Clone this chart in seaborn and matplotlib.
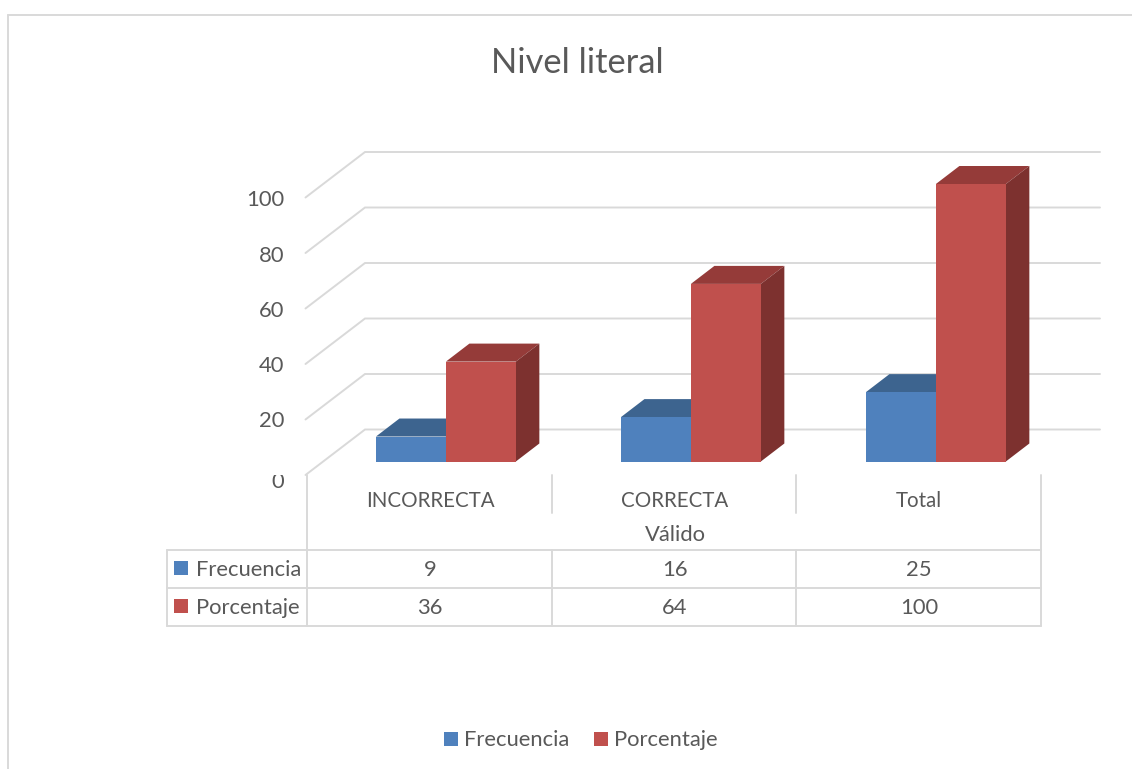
import matplotlib
matplotlib.use("Agg")
import matplotlib.pyplot as plt
import pandas as pd
import seaborn as sns
from matplotlib.patches import Polygon, Rectangle
from matplotlib.transforms import Affine2D, Bbox

categorias = ["INCORRECTA", "CORRECTA", "Total"]
frecuencia = [9, 16, 25]
porcentaje = [36, 64, 100]
series = ["Frecuencia", "Porcentaje"]
ticks = [0, 20, 40, 60, 80, 100]

W, H = 1132, 769
BLUE, RED = "#4F81BD", "#C0504D"
TOP = {"Frecuencia": "#3D648F", "Porcentaje": "#953B39"}
SIDE = {"Frecuencia": "#33537A", "Porcentaje": "#7D312F"}
GRID = "#D9D9D9"
TEXT = "#595959"
PX_UNIT = 2.775

sns.set_theme(style="white")
plt.rcParams["font.family"] = ["Lato", "DejaVu Sans"]

df = pd.DataFrame({
    "categoria": categorias * 2,
    "serie": [series[0]] * 3 + [series[1]] * 3,
    "valor": frecuencia + porcentaje,
})

fig = plt.figure(figsize=(W / 100, H / 100), dpi=100)
ax = fig.add_axes([323.4 / W, 1 - 461.5 / H, 735 / W, 277.5 / H])
sns.barplot(data=df, x="categoria", y="valor", hue="serie", order=categorias,
            hue_order=series, palette=[BLUE, RED], saturation=1, width=0.571,
            gap=0, legend=False, zorder=3, linewidth=0, ax=ax)
ax.set_xlim(-0.5, 2.5)
ax.set_ylim(0, 100)
ax.set_axis_off()

# pixel coordinates of the picture, origin top left
pix = Affine2D().scale(1, -1).translate(0, H)


def line(xs, ys, z=1):
    ax.plot(xs, ys, color=GRID, lw=1.4, transform=pix, clip_on=False,
            solid_joinstyle="miter", zorder=z)


def label(x, y, s, size=15.8, ha="center"):
    return ax.text(x, y, s, transform=pix, color=TEXT, fontsize=size, ha=ha,
                   va="center", clip_on=False)


# outer frame
line([8, 8], [H, 15])
line([8, W], [15, 15])

# back wall and floor lines
for v in ticks:
    y = 429.5 - v * PX_UNIT
    line([305.5, 365, 1100], [y + 45.5, y, y])

# depth of the bars
for name, cont in zip(series, ax.containers):
    for bar in cont:
        (x0, y0), (x1, y1) = ax.transData.transform(
            [(bar.get_x(), 0), (bar.get_x() + bar.get_width(), bar.get_height())])
        dx, dy = 23.5, 18
        ax.add_patch(Polygon([(x0, y1), (x1, y1), (x1 + dx, y1 + dy), (x0 + dx, y1 + dy)],
                             transform=None, facecolor=TOP[name], edgecolor="none",
                             clip_on=False, zorder=2))
        ax.add_patch(Polygon([(x1, y0), (x1 + dx, y0 + dy), (x1 + dx, y1 + dy), (x1, y1)],
                             transform=None, facecolor=SIDE[name], edgecolor="none",
                             clip_on=False, zorder=2))

# value axis labels, the zero is cut by the table
for v in ticks:
    y = 200.5 + (100 - v) * 2.76
    if v == 0:
        y += 5
    t = label(284, y, str(v), ha="right")
    if v == 0:
        t.set_clip_on(True)
        t.set_clip_box(Bbox([[250, H - 495], [300, H - 475]]))

# data table
for y in [550, 588, 626]:
    line([167, 1041], [y, y])
line([167, 167], [550, 626])
line([307, 307], [475, 626])
line([1041, 1041], [475, 626])
for x in [552, 796]:
    line([x, x], [475, 513])
    line([x, x], [550, 626])

col_x = [430, 675, 919]
for x, cat, f, p in zip(col_x, categorias, frecuencia, porcentaje):
    label(x, 501, cat, size=14.8)
    label(x, 570, str(f))
    label(x, 608, str(p))
label(675, 535, "Válido")

for y, name, color in zip([568, 606], series, [BLUE, RED]):
    ax.add_patch(Rectangle((174, y - 7), 14, 14, transform=pix, facecolor=color,
                           edgecolor="none", clip_on=False))
    label(196, y + 1.5, name, ha="left")

# legend
for x, name, color in zip([444, 594], series, [BLUE, RED]):
    ax.add_patch(Rectangle((x, 732), 14, 14, transform=pix, facecolor=color,
                           edgecolor="none", clip_on=False))
    label(x + 20, 740.5, name, ha="left")

label(577.5, 63, "Nivel literal", size=24.8)

fig.savefig("out.png", dpi=100)
